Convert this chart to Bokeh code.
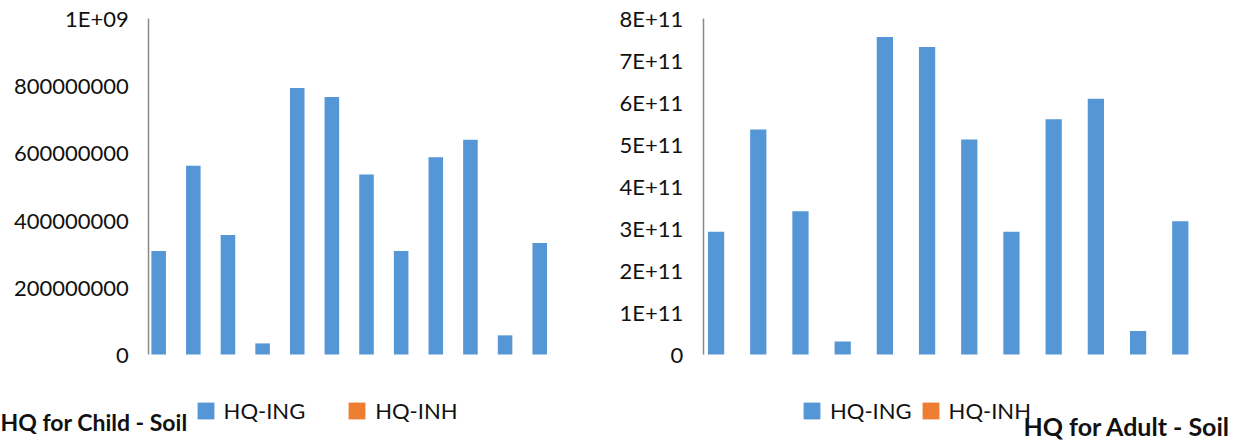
from bokeh.plotting import figure
from bokeh.models import (Range1d, FixedTicker, Legend, LegendItem, Label,
                          ColumnDataSource)
from bokeh.layouts import row
from bokeh.embed import file_html
from bokeh.resources import INLINE

# ---- data ----
samples = ["1", "2", "3", "4", "5", "6", "7", "8", "9", "10", "11", "12"]
child_hq_ing = [3.08e8, 5.62e8, 3.56e8, 0.33e8, 7.93e8, 7.66e8,
                5.36e8, 3.08e8, 5.87e8, 6.39e8, 0.57e8, 3.32e8]
child_hq_inh = [0, 0, 0, 0, 0, 0, 0, 0, 0, 0, 0, 0]
adult_hq_ing = [2.92e11, 5.36e11, 3.41e11, 0.31e11, 7.56e11, 7.32e11,
                5.12e11, 2.92e11, 5.60e11, 6.09e11, 0.56e11, 3.17e11]
adult_hq_inh = [0, 0, 0, 0, 0, 0, 0, 0, 0, 0, 0, 0]
child_ticks = [0, 2e8, 4e8, 6e8, 8e8, 1e9]
child_tick_labels = ["0", "200000000", "400000000", "600000000", "800000000", "1E+09"]
adult_ticks = [0, 1e11, 2e11, 3e11, 4e11, 5e11, 6e11, 7e11, 8e11]
adult_tick_labels = ["0", "1E+11", "2E+11", "3E+11", "4E+11", "5E+11", "6E+11", "7E+11", "8E+11"]
series_names = ["HQ-ING", "HQ-INH"]
titles = ["HQ for Child - Soil", "HQ for Adult - Soil"]

BLUE = "#5596d6"
ORANGE = "#ed7d31"
FONT = "Lato"
H = 444            # figure height (px)
ZERO_Y = 354       # pixel row of value 0
TOP_Y = 18         # pixel row of the axis maximum


def make_chart(width, axis_px, cat_px, ymax, ticks, tick_labels, ing, inh,
               offset, bar_w, legend_x, legend_spacing, title, title_x,
               title_y, title_size):
    # whole figure is the frame; the y axis sits at data x = 0 (fixed location)
    xs = [i + 0.5 for i in range(len(samples))]
    per_px = ymax / (ZERO_Y - TOP_Y)
    src = ColumnDataSource(dict(
        x_ing=[x + offset for x in xs], x_inh=[x - offset for x in xs],
        ing=ing, inh=inh, cat=samples))
    p = figure(width=width, height=H,
               x_range=Range1d(-axis_px / cat_px, (width - axis_px) / cat_px),
               y_range=Range1d(-(H - ZERO_Y) * per_px, ymax + TOP_Y * per_px),
               output_backend="svg", toolbar_location=None,
               min_border=0)
    p.outline_line_color = None
    p.grid.visible = False
    p.xaxis.visible = False
    ax = p.yaxis[0]
    ax.fixed_location = 0
    ax.bounds = (0, ymax)
    ax.ticker = FixedTicker(ticks=ticks)
    ax.major_label_overrides = {t: l for t, l in zip(ticks, tick_labels)}
    ax.major_tick_line_color = None
    ax.minor_tick_line_color = None
    ax.major_tick_out = 0
    ax.major_tick_in = 0
    ax.major_label_standoff = 20
    ax.axis_line_color = "#8a8a8a"
    ax.axis_line_width = 1.5
    ax.major_label_text_font = FONT
    ax.major_label_text_font_size = "22px"
    ax.major_label_text_color = "#111111"

    r1 = p.vbar(x="x_ing", top="ing", width=bar_w, source=src,
                fill_color=BLUE, line_color=None)
    r2 = p.vbar(x="x_inh", top="inh", width=bar_w, source=src,
                fill_color=ORANGE, line_color=None)

    legend = Legend(items=[LegendItem(label=series_names[0], renderers=[r1]),
                           LegendItem(label=series_names[1], renderers=[r2])],
                    orientation="horizontal", location=(legend_x, H - 424),
                    glyph_width=21, glyph_height=21, label_standoff=8,
                    spacing=legend_spacing, padding=0, margin=0,
                    border_line_color=None, background_fill_alpha=0,
                    label_text_font=FONT, label_text_font_size="22px",
                    label_text_color="#111111")
    p.add_layout(legend, "center")

    p.add_layout(Label(x=title_x, y=title_y, x_units="screen", y_units="screen",
                       text=title, text_font=FONT, text_font_style="bold",
                       text_font_size=title_size, text_color="#111111",
                       text_baseline="middle"))
    return p


p1 = make_chart(600, 148.3, 34.64, 1e9, child_ticks, child_tick_labels,
                child_hq_ing, child_hq_inh, -0.215, 0.42, 194.6, 41,
                titles[0], 0, H - 421, "23px")
p2 = make_chart(636, 102.7, 42.2, 8e11, adult_ticks, adult_tick_labels,
                adult_hq_ing, adult_hq_inh, -0.195, 0.385, 201, 8,
                titles[1], 423, H - 425, "25px")

layout = row(p1, p2)

open("out.html", "w").write(file_html(layout, INLINE))
